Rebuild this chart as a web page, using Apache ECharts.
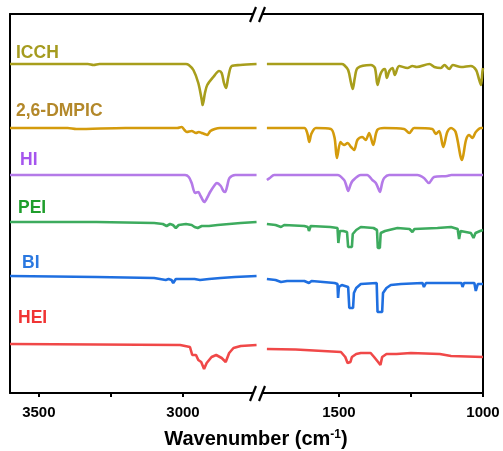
<!DOCTYPE html>
<html>
<head>
<meta charset="utf-8">
<script src="https://cdn.jsdelivr.net/npm/echarts@6/dist/echarts.min.js"></script>
<style>
html, body { margin: 0; padding: 0; background: #fff; }
#chart { width: 503px; height: 451px; }
</style>
</head>
<body>
<div id="chart"></div>
<script>
// FTIR spectra, stacked (y in arbitrary offset units), broken wavenumber axis
var names = ['ICCH', '2,6-DMPIC', 'HI', 'PEI', 'BI', 'HEI'];
var lineColors = ['#a89e1c', '#d49b0c', '#b47ae8', '#3dab5e', '#1f6fe0', '#f04848'];
var labelColors = ['#a59b1f', '#b3882a', '#a555ee', '#1f9e2c', '#2a78e0', '#f03434'];
var smoothFlags = [0.3, 0.3, 0.3, 0, 0, 0];

var leftTicks = [3500, 3250, 3000];
var leftLabels = [3500, 3000];
var rightTicks = [1500, 1250, 1000];
var rightLabels = [1500, 1000];

// high wavenumber part (3600 - 2745)
var icchHigh = [[3600, 32.9], [3330, 32.9], [3310, 32.8], [3290, 32.9], [2990, 32.9], [2980, 32.8], [2964, 32.3],
  [2947, 31.0], [2935, 29.3], [2932, 28.8], [2924, 30.0], [2916, 30.8], [2895, 31.6], [2875, 32.2], [2866, 32.0],
  [2858, 31.0], [2851, 30.5], [2843, 31.6], [2831, 32.7], [2802, 32.8], [2745, 32.9]];
var dmpicHigh = [[3600, 26.5], [3400, 26.5], [3370, 26.4], [3200, 26.5], [3020, 26.5], [3005, 26.6], [2995, 26.3],
  [2987, 26.1], [2970, 26.2], [2955, 26.0], [2945, 26.1], [2935, 26.0], [2925, 25.9], [2916, 25.8], [2905, 26.2],
  [2890, 26.4], [2872, 26.5], [2745, 26.5]];
var hiHigh = [[3600, 21.8], [2993, 21.8], [2980, 21.6], [2970, 21.0], [2958, 20.0], [2947, 20.1], [2939, 19.7],
  [2926, 19.1], [2915, 19.6], [2906, 20.1], [2890, 20.8], [2883, 21.0], [2869, 20.7], [2860, 20.2], [2854, 20.1],
  [2846, 20.8], [2839, 21.5], [2819, 21.8], [2745, 21.8]];
var peiHigh = [[3600, 17.1], [3300, 17.1], [3100, 17.0], [3070, 16.9], [3057, 16.7], [3045, 16.9], [3035, 16.8],
  [3025, 16.5], [3015, 16.8], [2990, 16.9], [2970, 16.8], [2960, 16.6], [2949, 16.5], [2935, 16.7], [2910, 16.7],
  [2880, 16.8], [2840, 16.9], [2800, 17.0], [2745, 17.1]];
var biHigh = [[3600, 11.7], [3300, 11.6], [3100, 11.5], [3080, 11.4], [3060, 11.3], [3050, 11.4], [3040, 11.3],
  [3034, 11.0], [3025, 11.4], [3000, 11.4], [2960, 11.4], [2941, 11.3], [2910, 11.4], [2870, 11.5], [2820, 11.6],
  [2745, 11.7]];
var heiHigh = [[3600, 4.9], [3300, 4.85], [3010, 4.8], [2976, 4.6], [2968, 3.8], [2955, 3.8], [2947, 3.3],
  [2937, 3.1], [2927, 2.4], [2918, 3.0], [2901, 3.6], [2885, 3.8], [2866, 3.5], [2852, 3.1], [2846, 3.2],
  [2840, 4.0], [2825, 4.5], [2800, 4.7], [2745, 4.8]];

// fingerprint part (1750 - 1000)
var icchLow = [[1750, 32.9], [1490, 32.9], [1482, 32.8], [1468, 32.3], [1458, 31.0], [1452, 30.4], [1445, 31.5],
  [1435, 32.5], [1389, 32.8], [1375, 32.5], [1366, 30.8], [1357, 31.8], [1348, 32.3], [1340, 32.4], [1334, 31.5],
  [1325, 32.2], [1314, 32.5], [1306, 31.8], [1291, 32.7], [1262, 32.5], [1245, 32.7], [1230, 32.6], [1186, 32.9],
  [1169, 32.6], [1146, 32.5], [1134, 32.8], [1117, 32.4], [1105, 32.8], [1076, 32.6], [1042, 32.7], [1024, 32.3],
  [1015, 31.5], [1007, 30.8], [1002, 32.1], [1000, 32.5]];
var dmpicLow = [[1750, 26.5], [1700, 26.5], [1620, 26.5], [1610, 26.0], [1603, 25.1], [1596, 25.9], [1580, 26.5],
  [1528, 26.4], [1515, 25.5], [1507, 23.5], [1495, 25.1], [1488, 24.9], [1482, 24.8], [1470, 25.0], [1458, 24.6],
  [1447, 24.3], [1436, 25.3], [1419, 25.6], [1407, 25.3], [1395, 26.0], [1381, 24.8], [1367, 26.3], [1343, 26.5],
  [1274, 26.4], [1256, 26.0], [1239, 26.5], [1176, 26.4], [1164, 25.9], [1152, 26.2], [1138, 24.6], [1124, 26.1],
  [1111, 26.5], [1095, 26.1], [1073, 23.3], [1059, 25.3], [1048, 25.8], [1037, 25.5], [1025, 26.1], [1007, 26.5],
  [1000, 26.5]];
var hiLow = [[1750, 21.3], [1740, 21.5], [1725, 21.8], [1505, 21.8], [1482, 21.3], [1475, 20.8], [1468, 20.2],
  [1460, 20.8], [1453, 21.2], [1424, 21.8], [1402, 21.8], [1384, 21.3], [1372, 21.0], [1364, 20.5], [1358, 20.1],
  [1350, 21.0], [1343, 21.5], [1326, 21.8], [1228, 21.8], [1205, 21.5], [1188, 21.0], [1170, 21.6], [1124, 21.7],
  [1110, 21.8], [1000, 21.8]];
var peiLow = [[1750, 16.9], [1720, 16.8], [1701, 16.6], [1690, 16.8], [1620, 16.7], [1608, 16.6], [1604, 16.2],
  [1598, 16.7], [1530, 16.6], [1505, 16.5], [1502, 15.0], [1499, 15.0], [1497, 16.2], [1485, 16.2], [1472, 16.1],
  [1468, 14.6], [1455, 14.6], [1452, 15.9], [1440, 16.3], [1424, 16.6], [1380, 16.5], [1368, 16.3], [1365, 14.5],
  [1358, 14.5], [1355, 16.0], [1340, 16.2], [1297, 16.5], [1255, 16.4], [1245, 16.1], [1238, 16.4], [1158, 16.5],
  [1111, 16.6], [1088, 16.4], [1083, 15.4], [1078, 16.2], [1042, 16.0], [1033, 15.5], [1026, 16.0], [1010, 16.2],
  [1000, 16.3]];
var biLow = [[1750, 11.4], [1720, 11.3], [1701, 11.1], [1680, 11.2], [1620, 11.2], [1604, 11.0], [1595, 11.2],
  [1515, 11.0], [1505, 10.9], [1503, 9.5], [1500, 10.6], [1490, 10.8], [1468, 10.6], [1464, 8.5], [1451, 8.5],
  [1448, 10.0], [1440, 10.5], [1424, 10.9], [1369, 11.0], [1366, 8.1], [1350, 8.1], [1347, 10.0], [1335, 10.5],
  [1320, 10.8], [1285, 10.9], [1210, 11.0], [1205, 10.6], [1198, 11.0], [1075, 11.0], [1071, 10.6], [1066, 11.0],
  [1030, 11.0], [1025, 10.2], [1018, 10.9], [1000, 10.9]];
var heiLow = [[1750, 4.4], [1650, 4.35], [1493, 4.1], [1478, 3.6], [1470, 3.0], [1460, 3.1], [1455, 3.6],
  [1440, 3.9], [1424, 4.0], [1390, 4.0], [1378, 3.6], [1364, 3.1], [1356, 2.8], [1350, 3.6], [1335, 3.9],
  [1300, 3.9], [1250, 4.0], [1150, 3.9], [1111, 3.7], [1000, 3.6]];

var highParts = [icchHigh, dmpicHigh, hiHigh, peiHigh, biHigh, heiHigh];
var lowParts = [icchLow, dmpicLow, hiLow, peiLow, biLow, heiLow];

// label anchor (left x, middle y) for each spectrum name
var labelPos = [[16, 52], [16, 110], [20, 159], [18, 207], [22, 262], [18, 317]];

var chart = echarts.init(document.getElementById('chart'));
var font = 'Arial, "Liberation Sans", sans-serif';
var black = { color: '#000', width: 2 };

function xAxisPair(grid, min, max, ticks, labels) {
  return [{
    gridIndex: grid, type: 'value', min: min, max: max, inverse: true, position: 'bottom',
    axisLine: { show: true, onZero: false, lineStyle: black },
    axisTick: { show: true, customValues: ticks, length: 4, lineStyle: black },
    axisLabel: {
      customValues: labels, margin: 12, color: '#000', fontWeight: 'bold', fontSize: 15, fontFamily: font,
      formatter: function(v) { return String(v); }
    },
    splitLine: { show: false }
  }, {
    gridIndex: grid, type: 'value', min: min, max: max, inverse: true, position: 'top',
    axisLine: { show: true, onZero: false, lineStyle: black },
    axisTick: { show: false }, axisLabel: { show: false }, splitLine: { show: false }
  }];
}

function yAxis(grid, pos) {
  return {
    gridIndex: grid, type: 'value', min: 0, max: 37.9, position: pos,
    axisLine: { show: true, onZero: false, lineStyle: black },
    axisTick: { show: false }, axisLabel: { show: false }, splitLine: { show: false }
  };
}

var series = [];
names.forEach(function(name, i) {
  series.push({
    name: name, type: 'line', xAxisIndex: 0, yAxisIndex: 0, data: highParts[i],
    showSymbol: false, smooth: smoothFlags[i], lineStyle: { color: lineColors[i], width: 2.6 }
  });
  series.push({
    name: name, type: 'line', xAxisIndex: 2, yAxisIndex: 1, data: lowParts[i],
    showSymbol: false, smooth: smoothFlags[i], lineStyle: { color: lineColors[i], width: 2.6 }
  });
});

var graphic = names.map(function(name, i) {
  return {
    type: 'text', left: labelPos[i][0], top: labelPos[i][1] - 8,
    style: { text: name, fill: labelColors[i], font: 'bold 17.5px ' + font }
  };
});

// axis break marks
[14, 393].forEach(function(y) {
  graphic.push({ type: 'rect', shape: { x: 254, y: y - 2, width: 9, height: 4 }, style: { fill: '#fff' }, z: 100 });
  graphic.push({ type: 'line', shape: { x1: 250, y1: y + 8, x2: 256, y2: y - 7 }, style: { stroke: '#000', lineWidth: 2.2 }, z: 101 });
  graphic.push({ type: 'line', shape: { x1: 259, y1: y + 8, x2: 265, y2: y - 7 }, style: { stroke: '#000', lineWidth: 2.2 }, z: 101 });
});

graphic.push({
  type: 'text', x: 256, y: 439,
  style: {
    text: '{a|Wavenumber (cm}{s|-1}{a|)}', align: 'center', verticalAlign: 'middle',
    rich: {
      a: { font: 'bold 20px ' + font, fill: '#000' },
      s: { font: 'bold 12px ' + font, fill: '#000', verticalAlign: 'top' }
    }
  }
});

chart.setOption({
  animation: false,
  grid: [
    { left: 10, right: 245, top: 14, bottom: 58 },
    { left: 262, right: 20, top: 14, bottom: 58 }
  ],
  xAxis: xAxisPair(0, 2740, 3600, leftTicks, leftLabels).concat(xAxisPair(1, 1000, 1767, rightTicks, rightLabels)),
  yAxis: [yAxis(0, 'left'), yAxis(1, 'right')],
  series: series,
  graphic: graphic
});
</script>
</body>
</html>
